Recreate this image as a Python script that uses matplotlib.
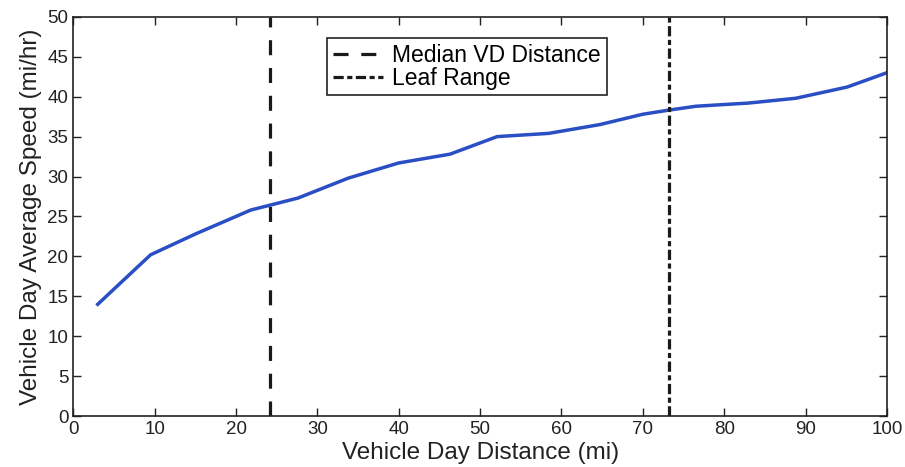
import matplotlib.pyplot as plt

# average speed vs. vehicle day distance
distance = [3, 9.5, 15, 21.8, 27.6, 33.8, 40, 46.3, 52.1, 58.4, 64.7, 70, 73.1, 76.5, 83, 88.8, 95.1, 100]
speed = [14.0, 20.2, 22.8, 25.8, 27.3, 29.8, 31.7, 32.8, 35.0, 35.4, 36.5, 37.8, 38.3, 38.8, 39.2, 39.8, 41.2, 43.0]

median_vd = 24.2
leaf_range = 73.2

plt.rcParams['font.family'] = ['Liberation Sans', 'DejaVu Sans']

fig = plt.figure(figsize=(9.05, 4.67), dpi=100)
ax = fig.add_axes([0.081, 0.109, 0.899, 0.855])

ax.plot(distance, speed, color='#2a4fc4', lw=2.5)
ax.axvline(median_vd, color='#1a1a1a', lw=2.3, ls=(0, (4.7, 4)), label='Median VD Distance')
ax.axvline(leaf_range, color='#1a1a1a', lw=2.3, ls=(0, (3.2, 1.1, 1.6, 1.1)), label='Leaf Range')

ax.set_xlim(0, 100)
ax.set_ylim(0, 50)
ax.set_xticks(range(0, 101, 10))
ax.set_yticks(range(0, 51, 5))
ax.tick_params(direction='in', top=True, right=True, labelsize=13.5, length=6, width=1, colors='#222222')
for s in ax.spines.values():
    s.set_linewidth(1.2)
    s.set_color('#222222')

ax.set_xlabel('Vehicle Day Distance (mi)', fontsize=17.5, labelpad=3, color='#222222')
ax.set_ylabel('Vehicle Day Average Speed (mi/hr)', fontsize=17.5, labelpad=4, color='#222222')

leg = ax.legend(loc='upper left', bbox_to_anchor=(0.312, 0.947), borderaxespad=0,
                fontsize=16.5, fancybox=False, framealpha=1, edgecolor='#222222',
                handlelength=2.2, handletextpad=0.4, borderpad=0.25, labelspacing=0.0)
leg.get_frame().set_linewidth(1.2)

fig.savefig('out.png', dpi=100)
